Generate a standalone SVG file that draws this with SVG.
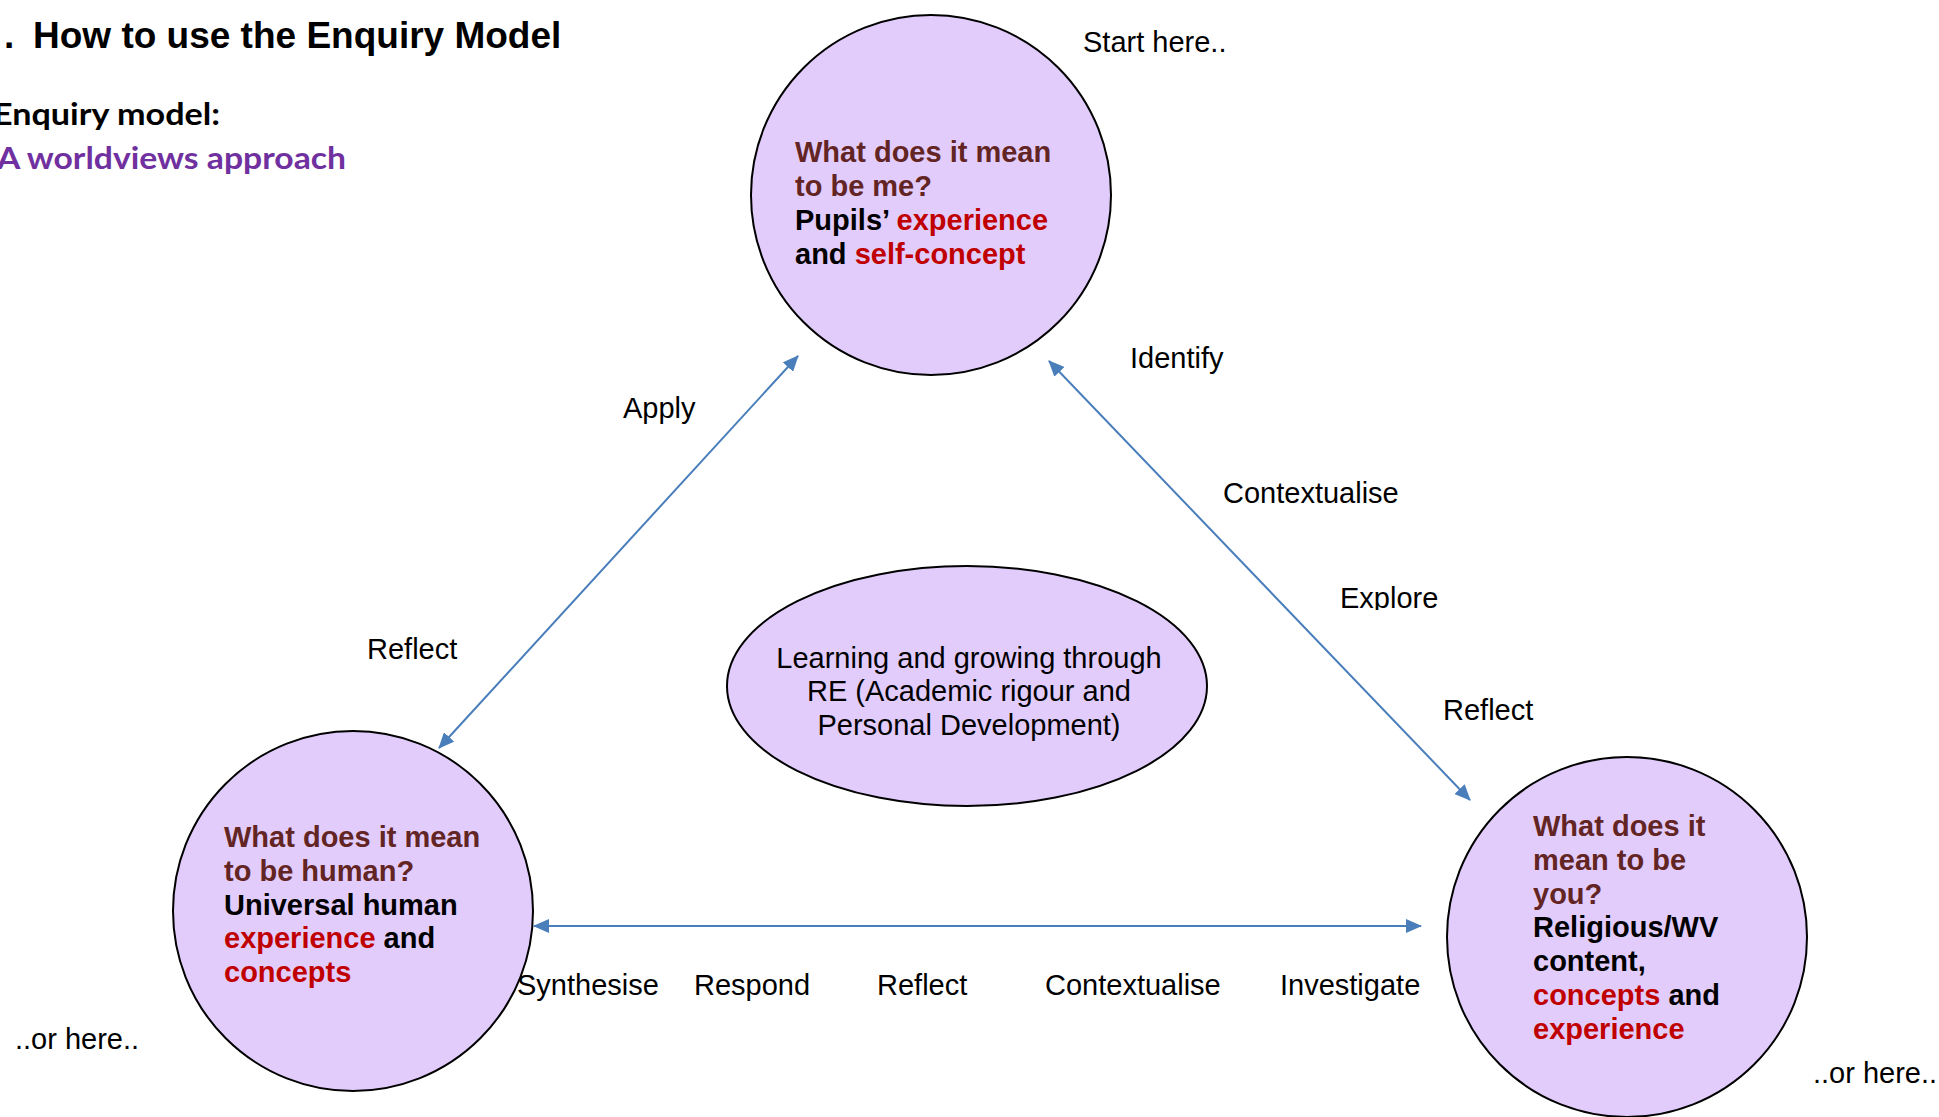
<svg xmlns="http://www.w3.org/2000/svg" width="1939" height="1117" viewBox="0 0 1939 1117">
<style>
.t{font-family:"Liberation Sans",Arial,sans-serif;font-size:29px;fill:#000}
.nb{font-family:"Liberation Sans",Arial,sans-serif;font-size:29px;font-weight:bold;fill:#000}
.q{fill:#632523}
.r{fill:#C00000}
.node{fill:#E2CCFC;stroke:#000;stroke-width:2}
.conn{stroke:#4A7EBB;stroke-width:2;fill:none;marker-start:url(#ah);marker-end:url(#ah)}
</style>
<defs>
<marker id="ah" markerUnits="userSpaceOnUse" markerWidth="16" markerHeight="14" refX="15" refY="7" orient="auto-start-reverse">
<path d="M0,0 L16,7 L0,14 z" fill="#4A7EBB"/>
</marker>
<clipPath id="clipExplore"><rect x="1300" y="560" width="200" height="50"/></clipPath>
</defs>
<rect width="1939" height="1117" fill="#fff"/>
<g id="title">
<text font-family="'Liberation Sans',Arial,sans-serif" font-weight="bold" font-size="37" y="48"><tspan x="4">.</tspan><tspan x="33">How to use the Enquiry Model</tspan></text>
<text font-family="Lato,'Open Sans',sans-serif" font-weight="bold" font-size="31" x="-7" y="125" textLength="227" lengthAdjust="spacingAndGlyphs">Enquiry model:</text>
<text font-family="Lato,'Open Sans',sans-serif" font-weight="bold" font-size="31" fill="#7030A0" x="-3" y="169" textLength="349" lengthAdjust="spacingAndGlyphs">A worldviews approach</text>
</g>
<g id="connectors">
<line class="conn" x1="798" y1="356" x2="439" y2="748"/>
<line class="conn" x1="1049" y1="361" x2="1470" y2="800"/>
<line class="conn" x1="534" y1="926" x2="1421" y2="926" stroke-width="2.5"/>
</g>
<g id="node-me">
<ellipse class="node" cx="931" cy="195" rx="180" ry="180"/>
<text class="nb" x="795" y="162"><tspan class="q">What does it mean</tspan></text>
<text class="nb" x="795" y="196"><tspan class="q">to be me?</tspan></text>
<text class="nb" x="795" y="230">Pupils’ <tspan class="r">experience</tspan></text>
<text class="nb" x="795" y="264">and <tspan class="r">self-concept</tspan></text>
</g>
<g id="node-center">
<ellipse class="node" cx="967" cy="686" rx="240" ry="120"/>
<text class="t" x="969" y="668" text-anchor="middle">Learning and growing through</text>
<text class="t" x="969" y="701" text-anchor="middle">RE (Academic rigour and</text>
<text class="t" x="969" y="735" text-anchor="middle">Personal Development)</text>
</g>
<g id="node-human">
<ellipse class="node" cx="353" cy="911" rx="180" ry="180"/>
<text class="nb" x="224" y="847"><tspan class="q">What does it mean</tspan></text>
<text class="nb" x="224" y="881"><tspan class="q">to be human?</tspan></text>
<text class="nb" x="224" y="915">Universal human</text>
<text class="nb" x="224" y="948"><tspan class="r">experience</tspan> and</text>
<text class="nb" x="224" y="982"><tspan class="r">concepts</tspan></text>
</g>
<g id="node-you">
<ellipse class="node" cx="1627" cy="937" rx="180" ry="180"/>
<text class="nb" x="1533" y="836"><tspan class="q">What does it</tspan></text>
<text class="nb" x="1533" y="870"><tspan class="q">mean to be</tspan></text>
<text class="nb" x="1533" y="904"><tspan class="q">you?</tspan></text>
<text class="nb" x="1533" y="937">Religious/WV</text>
<text class="nb" x="1533" y="971">content,</text>
<text class="nb" x="1533" y="1005"><tspan class="r">concepts</tspan> and</text>
<text class="nb" x="1533" y="1039"><tspan class="r">experience</tspan></text>
</g>
<g id="labels">
<text class="t" x="1083" y="52">Start here..</text>
<text class="t" x="1130" y="368">Identify</text>
<text class="t" x="623" y="418">Apply</text>
<text class="t" x="1223" y="503">Contextualise</text>
<text class="t" x="1340" y="608" clip-path="url(#clipExplore)">Explore</text>
<text class="t" x="1443" y="720">Reflect</text>
<text class="t" x="367" y="659">Reflect</text>
<text class="t" x="517" y="995">Synthesise</text>
<text class="t" x="694" y="995">Respond</text>
<text class="t" x="877" y="995">Reflect</text>
<text class="t" x="1045" y="995">Contextualise</text>
<text class="t" x="1280" y="995">Investigate</text>
<text class="t" x="15" y="1049">..or here..</text>
<text class="t" x="1813" y="1083">..or here..</text>
</g>
</svg>
